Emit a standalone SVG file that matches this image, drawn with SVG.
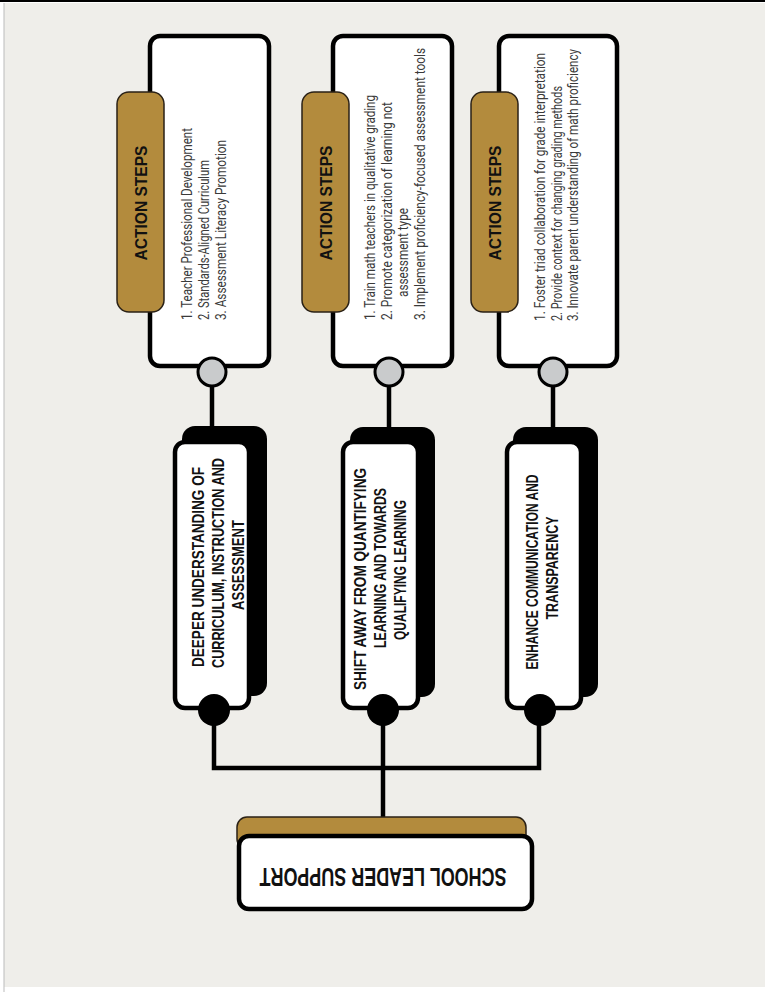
<svg xmlns="http://www.w3.org/2000/svg" width="765" height="1004" viewBox="0 0 765 1004">
<style>
.box{fill:#fff;stroke:#000;stroke-width:4.5}
.tab{fill:#b38b3d;stroke:#2a2116;stroke-width:1.5}
.back{fill:#000}
.gray{fill:#c9cbcc;stroke:#000;stroke-width:3}
.dot{fill:#000}
.con{fill:none;stroke:#000;stroke-width:4.5}
.hd{font-family:"Liberation Sans Narrow","Liberation Sans",Arial,sans-serif;font-weight:bold;fill:#111}
.bd{font-family:Roboto,"Liberation Sans",Arial,sans-serif;font-size:14px;fill:#3a3a3a}
</style>
<rect x="0" y="0" width="765" height="1004" fill="#fff"/>
<rect x="4" y="3" width="761" height="984" fill="#efeeea"/>
<rect x="0" y="0" width="765" height="2" fill="#000"/>
<line x1="4" y1="3" x2="4" y2="992" stroke="#bbb" stroke-width="1"/>

<g id="connectors">
<line class="con" x1="212" y1="384" x2="212" y2="430"/>
<line class="con" x1="389" y1="384" x2="389" y2="430"/>
<line class="con" x1="553" y1="384" x2="553" y2="430"/>
<path class="con" d="M214 712 V768 H539 V712"/>
<path class="con" d="M383 712 V822"/>
</g>

<g id="steps1">
<rect class="box" x="150" y="36" width="119" height="330" rx="10"/>
<rect class="tab" x="117" y="92" width="47" height="220" rx="12"/>
<text class="hd" font-size="17" transform="translate(147,203) rotate(-90)" text-anchor="middle" textLength="115" lengthAdjust="spacingAndGlyphs">ACTION STEPS</text>
<text class="bd" transform="translate(192,320) rotate(-90)" textLength="192" lengthAdjust="spacingAndGlyphs">1. Teacher Professional Development</text>
<text class="bd" transform="translate(209,320) rotate(-90)" textLength="160" lengthAdjust="spacingAndGlyphs">2. Standards-Aligned Curriculum</text>
<text class="bd" transform="translate(226,320) rotate(-90)" textLength="180" lengthAdjust="spacingAndGlyphs">3. Assessment Literacy Promotion</text>
<circle class="gray" cx="212" cy="372" r="14"/>
</g>

<g id="steps2">
<rect class="box" x="333" y="36" width="119" height="330" rx="10"/>
<rect class="tab" x="302" y="92" width="47" height="220" rx="12"/>
<text class="hd" font-size="17" transform="translate(332,203) rotate(-90)" text-anchor="middle" textLength="115" lengthAdjust="spacingAndGlyphs">ACTION STEPS</text>
<text class="bd" transform="translate(375,320) rotate(-90)" textLength="225" lengthAdjust="spacingAndGlyphs">1. Train math teachers in qualitative grading</text>
<text class="bd" transform="translate(391.5,320) rotate(-90)" textLength="218" lengthAdjust="spacingAndGlyphs">2. Promote categorization of learning not</text>
<text class="bd" transform="translate(408,297) rotate(-90)" textLength="89" lengthAdjust="spacingAndGlyphs">assessment type</text>
<text class="bd" transform="translate(424.5,320) rotate(-90)" textLength="272" lengthAdjust="spacingAndGlyphs">3. Implement proficiency-focused assessment tools</text>
<circle class="gray" cx="389" cy="372" r="14"/>
</g>

<g id="steps3">
<rect class="box" x="499" y="36" width="118" height="330" rx="10"/>
<rect class="tab" x="471" y="92" width="47" height="220" rx="12"/>
<text class="hd" font-size="17" transform="translate(501,203) rotate(-90)" text-anchor="middle" textLength="115" lengthAdjust="spacingAndGlyphs">ACTION STEPS</text>
<text class="bd" transform="translate(545,321) rotate(-90)" textLength="268" lengthAdjust="spacingAndGlyphs">1. Foster triad collaboration for grade interpretation</text>
<text class="bd" transform="translate(561.5,321) rotate(-90)" textLength="235" lengthAdjust="spacingAndGlyphs">2. Provide context for changing grading methods</text>
<text class="bd" transform="translate(578,321) rotate(-90)" textLength="272" lengthAdjust="spacingAndGlyphs">3. Innovate parent understanding of math proficiency</text>
<circle class="gray" cx="553" cy="372" r="14"/>
</g>

<g id="goal1">
<rect class="back" x="182" y="426" width="85" height="270" rx="13"/>
<rect class="box" x="175" y="442" width="74" height="266" rx="10"/>
<text class="hd" font-size="16" transform="translate(204,567) rotate(-90)" text-anchor="middle" textLength="200" lengthAdjust="spacingAndGlyphs">DEEPER UNDERSTANDING OF</text>
<text class="hd" font-size="16" transform="translate(224,563) rotate(-90)" text-anchor="middle" textLength="210" lengthAdjust="spacingAndGlyphs">CURRICULUM, INSTRUCTION AND</text>
<text class="hd" font-size="16" transform="translate(244,565) rotate(-90)" text-anchor="middle" textLength="90" lengthAdjust="spacingAndGlyphs">ASSESSMENT</text>
<circle class="dot" cx="214" cy="710" r="16"/>
</g>

<g id="goal2">
<rect class="back" x="350" y="427" width="85" height="270" rx="13"/>
<rect class="box" x="343" y="442" width="75" height="266" rx="10"/>
<text class="hd" font-size="16" transform="translate(366,579) rotate(-90)" text-anchor="middle" textLength="222" lengthAdjust="spacingAndGlyphs">SHIFT AWAY FROM QUANTIFYING</text>
<text class="hd" font-size="16" transform="translate(386,568) rotate(-90)" text-anchor="middle" textLength="160" lengthAdjust="spacingAndGlyphs">LEARNING AND TOWARDS</text>
<text class="hd" font-size="16" transform="translate(406,570) rotate(-90)" text-anchor="middle" textLength="140" lengthAdjust="spacingAndGlyphs">QUALIFYING LEARNING</text>
<circle class="dot" cx="383" cy="710" r="16"/>
</g>

<g id="goal3">
<rect class="back" x="513" y="427" width="85" height="270" rx="13"/>
<rect class="box" x="507" y="442" width="74" height="266" rx="10"/>
<text class="hd" font-size="16" transform="translate(538,572) rotate(-90)" text-anchor="middle" textLength="195" lengthAdjust="spacingAndGlyphs">ENHANCE COMMUNICATION AND</text>
<text class="hd" font-size="16" transform="translate(558,568) rotate(-90)" text-anchor="middle" textLength="103" lengthAdjust="spacingAndGlyphs">TRANSPARENCY</text>
<circle class="dot" cx="540" cy="710" r="16"/>
</g>

<g id="root">
<rect class="tab" x="237" y="817" width="289" height="32" rx="10"/>
<rect class="box" x="239" y="836" width="293" height="73" rx="10"/>
<text class="hd" font-size="26" transform="translate(383,868) rotate(180)" text-anchor="middle" textLength="247" lengthAdjust="spacingAndGlyphs">SCHOOL LEADER SUPPORT</text>
</g>
</svg>
